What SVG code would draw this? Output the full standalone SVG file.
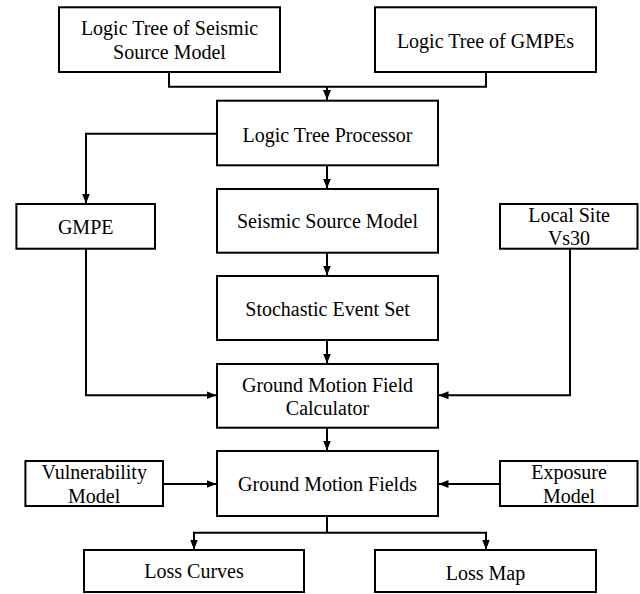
<svg xmlns="http://www.w3.org/2000/svg" width="640" height="594" viewBox="0 0 640 594">
<style>
.box{fill:#fff;stroke:#000;stroke-width:2}
.t{font-family:"Liberation Serif","Times New Roman",serif;font-size:20px;fill:#000;text-anchor:middle}
.c{fill:none;stroke:#000;stroke-width:2}
</style>
<defs>
<marker id="ah" markerUnits="userSpaceOnUse" markerWidth="12" markerHeight="10" refX="10" refY="4" orient="auto">
<path d="M0,0 L10,4 L0,8 Z" fill="#000"/>
</marker>
</defs>
<rect width="640" height="594" fill="#fff"/>
<g id="connectors">
<path class="c" d="M169,72 V86.7 H486 V72"/>
<path class="c" d="M327,86.7 V100" marker-end="url(#ah)"/>
<path class="c" d="M217,133.7 H86 V203.5" marker-end="url(#ah)"/>
<path class="c" d="M327,165 V188.5" marker-end="url(#ah)"/>
<path class="c" d="M327,252.7 V275.5" marker-end="url(#ah)"/>
<path class="c" d="M327,340 V363.5" marker-end="url(#ah)"/>
<path class="c" d="M86,248.7 V395.3 H216.5" marker-end="url(#ah)"/>
<path class="c" d="M570,248.7 V395.3 H438.5" marker-end="url(#ah)"/>
<path class="c" d="M327,427.7 V450.5" marker-end="url(#ah)"/>
<path class="c" d="M163,484 H216.5" marker-end="url(#ah)"/>
<path class="c" d="M500,484 H438.5" marker-end="url(#ah)"/>
<path class="c" d="M327,516 V532.7"/>
<path class="c" d="M194,549.5 V532.7 H486 V549.5"/>
<path class="c" d="M194,540 V549.5" marker-end="url(#ah)"/>
<path class="c" d="M486,540 V549.5" marker-end="url(#ah)"/>
</g>
<g id="n1"><rect class="box" x="59" y="7.3" width="221" height="64.7"/><text class="t" x="169.5" y="35">Logic Tree of Seismic</text><text class="t" x="169.5" y="59.3">Source Model</text></g>
<g id="n2"><rect class="box" x="375" y="7.3" width="221" height="64.7"/><text class="t" x="485.5" y="48.3">Logic Tree of GMPEs</text></g>
<g id="n3"><rect class="box" x="217" y="100.7" width="221" height="64.6"/><text class="t" x="327.5" y="141.7">Logic Tree Processor</text></g>
<g id="n4"><rect class="box" x="16.4" y="204" width="138.6" height="44.7"/><text class="t" x="85.7" y="234">GMPE</text></g>
<g id="n5"><rect class="box" x="217" y="189" width="221" height="63.7"/><text class="t" x="327.5" y="228.3">Seismic Source Model</text></g>
<g id="n6"><rect class="box" x="500" y="204" width="137.5" height="44.7"/><text class="t" x="569" y="221.7">Local Site</text><text class="t" x="569" y="245">Vs30</text></g>
<g id="n7"><rect class="box" x="217" y="276" width="221" height="64"/><text class="t" x="327.5" y="316">Stochastic Event Set</text></g>
<g id="n8"><rect class="box" x="217" y="364" width="221" height="63.7"/><text class="t" x="327.5" y="391.7">Ground Motion Field</text><text class="t" x="327.5" y="415">Calculator</text></g>
<g id="n9"><rect class="box" x="217" y="451" width="221" height="65"/><text class="t" x="327.5" y="490.7">Ground Motion Fields</text></g>
<g id="n10"><rect class="box" x="25.4" y="461" width="137.6" height="45"/><text class="t" x="94.2" y="479.3">Vulnerability</text><text class="t" x="94.2" y="503.3">Model</text></g>
<g id="n11"><rect class="box" x="500" y="461" width="137.5" height="45"/><text class="t" x="569" y="479.3">Exposure</text><text class="t" x="569" y="503.3">Model</text></g>
<g id="n12"><rect class="box" x="84" y="550" width="220" height="42"/><text class="t" x="194" y="578.3">Loss Curves</text></g>
<g id="n13"><rect class="box" x="375" y="550" width="221" height="42"/><text class="t" x="485.5" y="580">Loss Map</text></g>
</svg>
